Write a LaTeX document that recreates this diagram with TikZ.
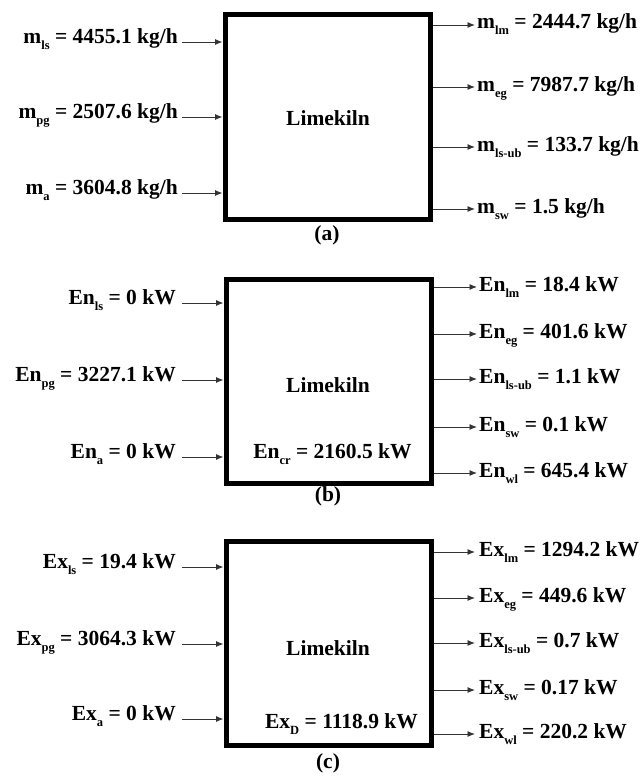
\documentclass[tikz,border=0pt]{standalone}
\usepackage{fontspec}
\setmainfont{Liberation Serif}
\usetikzlibrary{arrows.meta}
\newcommand{\sbx}[1]{\raisebox{-6pt}{\fontsize{12.5}{12.5}\selectfont #1}}
\tikzset{
  kiln/.style={draw, line width=5pt, rectangle, minimum width=205pt, minimum height=204pt, inner sep=0pt},
  flowarr/.style={draw=black!80, line width=0.9pt, -{Latex[length=7.5pt,width=6pt]}},
  txt/.style={font=\fontsize{21.5}{24}\selectfont\bfseries, inner sep=0pt},
  inl/.style={txt, anchor=base east},
  outl/.style={txt, anchor=base west},
}
\begin{document}
\begin{tikzpicture}[x=1pt,y=-1pt]
\useasboundingbox[fill=white] (0,0) rectangle (641,776);

% ---------- panel (a) ----------
\node[kiln] (ka) at (327.5,117) {};
\node[txt, anchor=base] (kla) at (328,125) {Limekiln};
\node[txt, anchor=base] (capa) at (327,240) {(a)};
\coordinate (ai1) at (182,42);
\coordinate (ai2) at (182,117);
\coordinate (ai3) at (182,193);
\node[inl] (lai1) at (178,43.5) {m\sbx{ls} = 4455.1 kg/h};
\node[inl] (lai2) at (178,118.5) {m\sbx{pg} = 2507.6 kg/h};
\node[inl] (lai3) at (178,194.5) {m\sbx{a} = 3604.8 kg/h};
\draw[flowarr] (ai1) -- (ka.west |- ai1);
\draw[flowarr] (ai2) -- (ka.west |- ai2);
\draw[flowarr] (ai3) -- (ka.west |- ai3);
\coordinate (ao1) at (475,25);
\coordinate (ao2) at (475,87);
\coordinate (ao3) at (475,147);
\coordinate (ao4) at (475,209);
\node[outl] (lao1) at (477,29) {m\sbx{lm} = 2444.7 kg/h};
\node[outl] (lao2) at (477,91) {m\sbx{eg} = 7987.7 kg/h};
\node[outl] (lao3) at (477,151) {m\sbx{ls-ub} = 133.7 kg/h};
\node[outl] (lao4) at (477,213) {m\sbx{sw} = 1.5 kg/h};
\draw[flowarr] (ka.east |- ao1) -- (ao1);
\draw[flowarr] (ka.east |- ao2) -- (ao2);
\draw[flowarr] (ka.east |- ao3) -- (ao3);
\draw[flowarr] (ka.east |- ao4) -- (ao4);

% ---------- panel (b) ----------
\node[kiln] (kb) at (328.5,381.5) {};
\node[txt, anchor=base] (klb) at (328,392) {Limekiln};
\node[txt, anchor=base] (enc) at (332.5,458) {En\sbx{cr} = 2160.5 kW};
\node[txt, anchor=base] (capb) at (328,501) {(b)};
\coordinate (bi1) at (182,303);
\coordinate (bi2) at (182,380);
\coordinate (bi3) at (182,457);
\node[inl] (lbi1) at (176,304) {En\sbx{ls} = 0 kW};
\node[inl] (lbi2) at (176,381) {En\sbx{pg} = 3227.1 kW};
\node[inl] (lbi3) at (176,458) {En\sbx{a} = 0 kW};
\draw[flowarr] (bi1) -- (kb.west |- bi1);
\draw[flowarr] (bi2) -- (kb.west |- bi2);
\draw[flowarr] (bi3) -- (kb.west |- bi3);
\coordinate (bo1) at (477,287);
\coordinate (bo2) at (477,334);
\coordinate (bo3) at (477,379);
\coordinate (bo4) at (477,427);
\coordinate (bo5) at (477,473);
\node[outl] (lbo1) at (479,291) {En\sbx{lm} = 18.4 kW};
\node[outl] (lbo2) at (479,338) {En\sbx{eg} = 401.6 kW};
\node[outl] (lbo3) at (479,383) {En\sbx{ls-ub} = 1.1 kW};
\node[outl] (lbo4) at (479,431) {En\sbx{sw} = 0.1 kW};
\node[outl] (lbo5) at (479,477) {En\sbx{wl} = 645.4 kW};
\draw[flowarr] (kb.east |- bo1) -- (bo1);
\draw[flowarr] (kb.east |- bo2) -- (bo2);
\draw[flowarr] (kb.east |- bo3) -- (bo3);
\draw[flowarr] (kb.east |- bo4) -- (bo4);
\draw[flowarr] (kb.east |- bo5) -- (bo5);

% ---------- panel (c) ----------
\node[kiln] (kc) at (328.5,643.75) {};
\node[txt, anchor=base] (klc) at (328,655) {Limekiln};
\node[txt, anchor=base] (exd) at (341.5,728) {Ex\sbx{D} = 1118.9 kW};
\node[txt, anchor=base] (capc) at (328,768) {(c)};
\coordinate (ci1) at (182,567);
\coordinate (ci2) at (182,644);
\coordinate (ci3) at (182,719);
\node[inl] (lci1) at (176,568) {Ex\sbx{ls} = 19.4 kW};
\node[inl] (lci2) at (176,645) {Ex\sbx{pg} = 3064.3 kW};
\node[inl] (lci3) at (176,720) {Ex\sbx{a} = 0 kW};
\draw[flowarr] (ci1) -- (kc.west |- ci1);
\draw[flowarr] (ci2) -- (kc.west |- ci2);
\draw[flowarr] (ci3) -- (kc.west |- ci3);
\coordinate (co1) at (475,552);
\coordinate (co2) at (475,598);
\coordinate (co3) at (475,643);
\coordinate (co4) at (475,690);
\coordinate (co5) at (475,734);
\node[outl] (lco1) at (479,556) {Ex\sbx{lm} = 1294.2 kW};
\node[outl] (lco2) at (479,602) {Ex\sbx{eg} = 449.6 kW};
\node[outl] (lco3) at (479,647) {Ex\sbx{ls-ub} = 0.7 kW};
\node[outl] (lco4) at (479,694) {Ex\sbx{sw} = 0.17 kW};
\node[outl] (lco5) at (479,738) {Ex\sbx{wl} = 220.2 kW};
\draw[flowarr] (kc.east |- co1) -- (co1);
\draw[flowarr] (kc.east |- co2) -- (co2);
\draw[flowarr] (kc.east |- co3) -- (co3);
\draw[flowarr] (kc.east |- co4) -- (co4);
\draw[flowarr] (kc.east |- co5) -- (co5);
\end{tikzpicture}
\end{document}
